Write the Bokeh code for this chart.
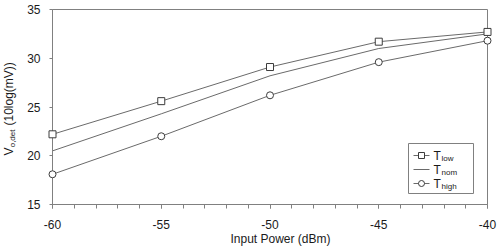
from bokeh.plotting import figure
from bokeh.models import Range1d, FixedTicker, PrintfTickFormatter
from bokeh.embed import file_html
from bokeh.resources import INLINE
from bokeh.core.properties import value
import math

# ---- data ----
power_dbm = [-60, -55, -50, -45, -40]
t_low = [22.2, 25.6, 29.1, 31.7, 32.7]
t_nom = [20.5, 24.3, 28.2, 31.0, 32.5]
t_high = [18.1, 22.0, 26.2, 29.6, 31.8]
x_ticks = [-60, -55, -50, -45, -40]
y_ticks = [15, 20, 25, 30, 35]
legend_names = ["low", "nom", "high"]
x_title = "Input Power (dBm)"
y_title = ["V", "o,det", "(10log(mV))"]

XMIN, XMAX, YMIN, YMAX = -60, -40, 15, 35

# ---- layout (pixels) ----
W, H = 498, 250
BL, BR, BT, BB = 52, 11, 9, 46
FW, FH = W - BL - BR, H - BT - BB


def fx(px):  # canvas x pixel -> data x
    return XMIN + (px - BL) / FW * (XMAX - XMIN)


def fy(py):  # canvas y pixel -> data y
    return YMIN + (BT + FH - py) / FH * (YMAX - YMIN)


FONT = value("Liberation Sans")
GRAY = "#808080"
LINE = "#6a6a6a"
MK = "#3c3c3c"
TXT = "#1a1a1a"

p = figure(width=W, height=H, output_backend="svg", toolbar_location=None,
           x_range=Range1d(XMIN, XMAX), y_range=Range1d(YMIN, YMAX),
           min_border_left=BL, min_border_right=BR, min_border_top=BT,
           min_border_bottom=BB)
p.xgrid.visible = False
p.ygrid.visible = False
p.outline_line_color = GRAY
p.outline_line_width = 1
p.background_fill_color = "white"
p.border_fill_color = "white"

for ax in (p.xaxis, p.yaxis):
    ax.axis_line_color = GRAY
    ax.major_tick_line_color = GRAY
    ax.minor_tick_line_color = GRAY
    ax.major_label_text_font = "Liberation Sans"
    ax.major_label_text_font_size = "12px"
    ax.major_label_text_color = TXT
    ax.major_tick_in = 0
    ax.minor_tick_in = 0

p.xaxis.ticker = FixedTicker(ticks=x_ticks, minor_ticks=list(range(XMIN, XMAX + 1)))
p.xaxis.formatter = PrintfTickFormatter(format="%d")
p.xaxis.major_tick_out = 4
p.xaxis.minor_tick_out = 4
p.xaxis.major_label_standoff = 11

p.yaxis.ticker = FixedTicker(ticks=y_ticks, minor_ticks=[])
p.yaxis.formatter = PrintfTickFormatter(format="%d")
p.yaxis.major_tick_out = 3
p.yaxis.minor_tick_out = 0
p.yaxis.major_label_standoff = 9

# ---- series ----
p.line(power_dbm, t_low, line_color=LINE, line_width=1)
p.line(power_dbm, t_nom, line_color=LINE, line_width=1)
p.line(power_dbm, t_high, line_color=LINE, line_width=1)
p.scatter(power_dbm, t_low, marker="square", size=7, fill_color="white",
          line_color=MK, line_width=1, level="overlay")
p.scatter(power_dbm, t_high, marker="circle", size=7, fill_color="white",
          line_color=MK, line_width=1, level="overlay")

# ---- x axis title ----
p.text(x=[fx(280)], y=[fy(238)], text=[x_title], text_font=FONT,
       text_font_size="12px", text_color=TXT, text_align="center",
       text_baseline="middle", level="overlay")

# ---- rotated y axis title with subscript ----
y0 = 155
p.text(x=[fx(15.5)], y=[fy(y0)], text=[y_title[0]], angle=math.pi / 2,
       text_font=FONT, text_font_size="12px", text_color=TXT,
       text_align="left", text_baseline="bottom", level="overlay")
p.text(x=[fx(16.5)], y=[fy(y0 - 8.2)], text=[y_title[1]], angle=math.pi / 2,
       text_font=FONT, text_font_size="8px", text_color=TXT,
       text_align="left", text_baseline="bottom", level="overlay")
p.text(x=[fx(15.5)], y=[fy(y0 - 30)], text=[y_title[2]], angle=math.pi / 2,
       text_font=FONT, text_font_size="12px", text_color=TXT,
       text_align="left", text_baseline="bottom", level="overlay")

# ---- legend (built by hand to allow subscripts) ----
LB_L, LB_R, LB_T, LB_B = 408, 473, 143, 193
p.quad(left=[fx(LB_L)], right=[fx(LB_R)], top=[fy(LB_T)], bottom=[fy(LB_B)],
       fill_color="white", line_color=GRAY, line_width=1, level="overlay")
rows = [155, 169, 183]
markers = ["square", None, "circle"]
for name, cy, mk in zip(legend_names, rows, markers):
    p.line([fx(413), fx(429)], [fy(cy), fy(cy)], line_color=LINE, line_width=1,
           level="overlay")
    if mk:
        p.scatter([fx(421)], [fy(cy)], marker=mk, size=6, fill_color="white",
                  line_color=MK, line_width=1, level="overlay")
    p.text(x=[fx(433)], y=[fy(cy)], text=["T"], text_font=FONT,
           text_font_size="12px", text_color=TXT, text_align="left",
           text_baseline="middle", level="overlay")
    p.text(x=[fx(441)], y=[fy(cy + 3)], text=[name], text_font=FONT,
           text_font_size="8px", text_color=TXT, text_align="left",
           text_baseline="middle", level="overlay")

open("out.html", "w").write(file_html(p, INLINE))
